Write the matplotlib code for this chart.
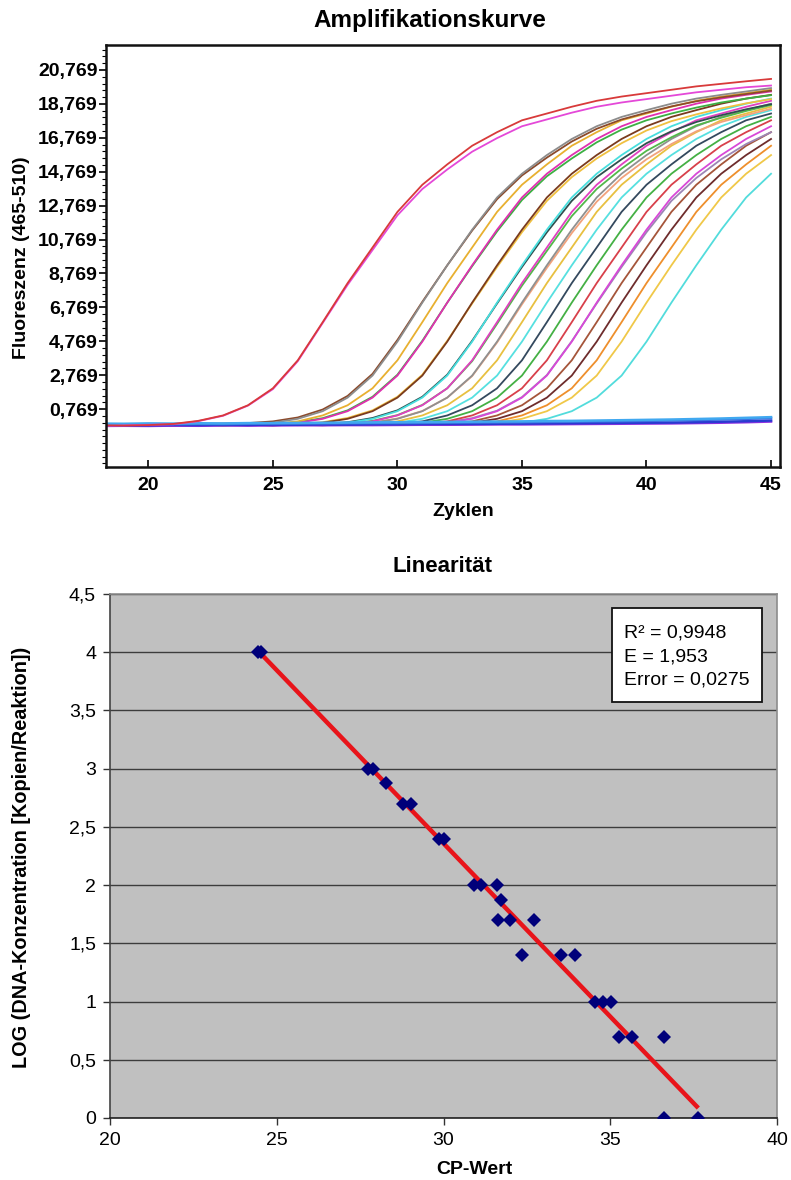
import numpy as np
import matplotlib
matplotlib.use("Agg")
import matplotlib.pyplot as plt
from matplotlib.ticker import FixedLocator, MultipleLocator
from matplotlib.patches import Rectangle

plt.rcParams['font.family'] = ['Liberation Sans', 'DejaVu Sans']

# ---------------- amplification curves (fluorescence per cycle) ----------------
cycles = list(range(18, 46))

std_red = [-0.18, -0.20, -0.17, -0.10, 0.08, 0.40, 1.00, 2.00, 3.65, 5.90, 8.20, 10.30, 12.40, 14.00,
           15.20, 16.30, 17.10, 17.80, 18.20, 18.60, 18.95, 19.20, 19.40, 19.60, 19.80, 19.95, 20.10, 20.24]
std_magenta = [-0.22, -0.19, -0.15, -0.12, 0.06, 0.38, 0.98, 1.95, 3.60, 5.85, 8.10, 10.15, 12.20, 13.75,
               14.90, 15.95, 16.75, 17.45, 17.85, 18.25, 18.60, 18.85, 19.05, 19.25, 19.45, 19.60, 19.75, 19.85]
s_gray1 = [-0.15, -0.18, -0.20, -0.16, -0.14, -0.12, -0.12, -0.03, 0.20, 0.65, 1.45, 2.75, 4.75, 7.05,
           9.25, 11.35, 13.25, 14.65, 15.75, 16.70, 17.45, 18.00, 18.40, 18.78, 19.08, 19.30, 19.50, 19.70]
s_brown1 = [-0.12, -0.16, -0.14, -0.18, -0.10, -0.08, -0.05, 0.05, 0.28, 0.75, 1.55, 2.85, 4.85, 7.10,
            9.25, 11.30, 13.15, 14.55, 15.60, 16.55, 17.30, 17.85, 18.25, 18.62, 18.92, 19.15, 19.35, 19.55]
s_gold1 = [-0.20, -0.22, -0.18, -0.15, -0.17, -0.14, -0.13, -0.10, 0.05, 0.40, 1.00, 2.00, 3.65, 5.90,
           8.20, 10.30, 12.40, 14.00, 15.20, 16.30, 17.10, 17.80, 18.20, 18.60, 18.95, 19.20, 19.40, 19.60]
s_magenta1 = [-0.14, -0.12, -0.16, -0.20, -0.18, -0.15, -0.12, -0.12, -0.03, 0.20, 0.65, 1.45, 2.75, 4.75,
              7.05, 9.25, 11.35, 13.25, 14.65, 15.75, 16.70, 17.45, 18.00, 18.40, 18.78, 19.08, 19.30, 19.50]
s_green1 = [-0.18, -0.15, -0.13, -0.16, -0.14, -0.19, -0.16, -0.10, 0.00, 0.24, 0.70, 1.50, 2.80, 4.80,
            7.05, 9.20, 11.25, 13.10, 14.50, 15.55, 16.50, 17.25, 17.80, 18.20, 18.55, 18.85, 19.08, 19.28]
s_brown2 = [-0.16, -0.19, -0.17, -0.13, -0.15, -0.18, -0.14, -0.12, -0.12, -0.03, 0.20, 0.65, 1.45, 2.75,
            4.75, 7.05, 9.25, 11.35, 13.25, 14.65, 15.75, 16.70, 17.45, 18.00, 18.40, 18.78, 19.08, 19.30]
s_gold2 = [-0.21, -0.17, -0.15, -0.19, -0.20, -0.14, -0.12, -0.15, -0.10, 0.00, 0.25, 0.70, 1.50, 2.80,
           4.80, 7.00, 9.15, 11.20, 13.05, 14.45, 15.55, 16.45, 17.20, 17.75, 18.15, 18.50, 18.80, 19.05]
s_cyan1 = [-0.14, -0.16, -0.20, -0.18, -0.13, -0.15, -0.17, -0.12, -0.14, -0.12, -0.03, 0.20, 0.65, 1.45,
           2.75, 4.75, 7.05, 9.25, 11.35, 13.25, 14.65, 15.75, 16.70, 17.45, 18.00, 18.40, 18.78, 19.08]
s_slate1 = [-0.17, -0.13, -0.16, -0.15, -0.19, -0.17, -0.12, -0.15, -0.13, -0.10, 0.00, 0.25, 0.70, 1.50,
            2.80, 4.80, 7.00, 9.15, 11.20, 13.05, 14.45, 15.50, 16.45, 17.15, 17.70, 18.10, 18.45, 18.75]
s_magenta2 = [-0.19, -0.16, -0.18, -0.14, -0.12, -0.17, -0.15, -0.13, -0.16, -0.14, -0.10, 0.05, 0.40, 1.00,
              2.00, 3.65, 5.90, 8.20, 10.30, 12.40, 14.00, 15.20, 16.30, 17.10, 17.80, 18.20, 18.60, 18.95]
s_green2 = [-0.15, -0.18, -0.13, -0.17, -0.16, -0.12, -0.14, -0.18, -0.12, -0.15, -0.08, 0.08, 0.42, 1.02,
            2.00, 3.60, 5.80, 8.05, 10.10, 12.15, 13.75, 14.95, 16.00, 16.80, 17.50, 17.95, 18.35, 18.70]
s_gray2 = [-0.13, -0.17, -0.15, -0.19, -0.16, -0.14, -0.13, -0.17, -0.15, -0.12, -0.12, -0.03, 0.20, 0.65,
           1.45, 2.75, 4.75, 7.05, 9.25, 11.35, 13.25, 14.65, 15.75, 16.70, 17.45, 18.00, 18.40, 18.78]
s_peach = [-0.18, -0.14, -0.16, -0.13, -0.18, -0.17, -0.15, -0.12, -0.16, -0.14, -0.11, -0.02, 0.22, 0.66,
           1.45, 2.72, 4.70, 6.95, 9.10, 11.15, 13.00, 14.40, 15.50, 16.40, 17.15, 17.70, 18.10, 18.48]
s_gold3 = [-0.16, -0.14, -0.18, -0.15, -0.13, -0.17, -0.19, -0.14, -0.12, -0.16, -0.15, -0.10, 0.05, 0.40,
           1.00, 2.00, 3.65, 5.90, 8.20, 10.30, 12.40, 14.00, 15.20, 16.30, 17.10, 17.80, 18.20, 18.60]
s_cyan2 = [-0.15, -0.13, -0.17, -0.16, -0.14, -0.18, -0.15, -0.13, -0.17, -0.14, -0.12, -0.12, -0.03, 0.20,
           0.65, 1.45, 2.75, 4.75, 7.05, 9.25, 11.35, 13.25, 14.65, 15.75, 16.70, 17.45, 18.00, 18.40]
s_slate2 = [-0.17, -0.15, -0.13, -0.18, -0.16, -0.14, -0.15, -0.19, -0.13, -0.15, -0.14, -0.13, -0.10, 0.05,
            0.40, 1.00, 2.00, 3.65, 5.90, 8.20, 10.30, 12.40, 14.00, 15.20, 16.30, 17.10, 17.80, 18.20]
s_green3 = [-0.14, -0.17, -0.16, -0.13, -0.15, -0.18, -0.16, -0.14, -0.17, -0.13, -0.15, -0.12, -0.12, -0.03,
            0.20, 0.65, 1.45, 2.75, 4.75, 7.05, 9.25, 11.35, 13.25, 14.65, 15.75, 16.70, 17.45, 18.00]
s_red = [-0.16, -0.18, -0.14, -0.15, -0.17, -0.13, -0.16, -0.18, -0.15, -0.14, -0.16, -0.13, -0.14, -0.10,
         0.05, 0.40, 1.00, 2.00, 3.65, 5.90, 8.20, 10.30, 12.40, 14.00, 15.20, 16.30, 17.10, 17.80]
s_magenta3 = [-0.15, -0.13, -0.17, -0.19, -0.14, -0.16, -0.15, -0.13, -0.17, -0.16, -0.14, -0.15, -0.12, -0.12,
              -0.03, 0.20, 0.65, 1.45, 2.75, 4.75, 7.05, 9.25, 11.35, 13.25, 14.65, 15.75, 16.70, 17.45]
s_purple = [-0.18, -0.16, -0.14, -0.15, -0.17, -0.13, -0.18, -0.16, -0.14, -0.15, -0.17, -0.13, -0.14, -0.10,
            0.00, 0.24, 0.68, 1.48, 2.78, 4.78, 7.00, 9.15, 11.20, 13.05, 14.40, 15.50, 16.40, 17.10]
s_rust = [-0.14, -0.16, -0.18, -0.15, -0.13, -0.17, -0.14, -0.16, -0.15, -0.18, -0.13, -0.15, -0.16, -0.14,
          -0.10, 0.05, 0.40, 1.00, 2.00, 3.65, 5.90, 8.20, 10.30, 12.40, 14.00, 15.20, 16.30, 17.10]
s_maroon = [-0.17, -0.15, -0.13, -0.16, -0.18, -0.14, -0.15, -0.17, -0.13, -0.16, -0.14, -0.15, -0.17, -0.12,
            -0.12, -0.03, 0.20, 0.65, 1.45, 2.75, 4.75, 7.05, 9.25, 11.35, 13.25, 14.65, 15.75, 16.70]
s_orange = [-0.15, -0.17, -0.14, -0.16, -0.13, -0.18, -0.15, -0.14, -0.16, -0.17, -0.13, -0.15, -0.14, -0.16,
            -0.13, -0.10, 0.05, 0.40, 1.00, 2.00, 3.65, 5.90, 8.20, 10.30, 12.40, 14.00, 15.20, 16.30]
s_gold4 = [-0.16, -0.14, -0.17, -0.15, -0.18, -0.13, -0.16, -0.15, -0.14, -0.17, -0.16, -0.13, -0.15, -0.14,
           -0.12, -0.12, -0.03, 0.20, 0.65, 1.45, 2.75, 4.75, 7.05, 9.25, 11.35, 13.25, 14.65, 15.75]
s_cyan3 = [-0.14, -0.16, -0.15, -0.18, -0.13, -0.17, -0.15, -0.14, -0.16, -0.15, -0.13, -0.17, -0.14, -0.16,
           -0.15, -0.12, -0.12, -0.03, 0.20, 0.65, 1.45, 2.75, 4.75, 7.05, 9.25, 11.35, 13.25, 14.65]

# negative controls (no amplification)
neg_blue = [-0.12, -0.13, -0.11, -0.12, -0.10, -0.11, -0.09, -0.08, -0.08, -0.07, -0.06, -0.05, -0.05, -0.04,
            -0.03, -0.02, -0.01, 0.00, 0.02, 0.03, 0.05, 0.06, 0.08, 0.10, 0.13, 0.16, 0.20, 0.24]
neg_navy = [-0.18, -0.17, -0.18, -0.16, -0.17, -0.15, -0.16, -0.14, -0.15, -0.13, -0.14, -0.12, -0.12, -0.11,
            -0.10, -0.10, -0.09, -0.08, -0.07, -0.06, -0.05, -0.04, -0.03, -0.02, 0.00, 0.03, 0.06, 0.10]
neg_violet = [-0.22, -0.21, -0.22, -0.20, -0.21, -0.19, -0.20, -0.19, -0.18, -0.18, -0.17, -0.17, -0.16, -0.15,
              -0.15, -0.14, -0.13, -0.13, -0.12, -0.11, -0.10, -0.09, -0.08, -0.07, -0.05, -0.03, 0.00, 0.04]
neg_sky = [-0.08, -0.09, -0.07, -0.08, -0.06, -0.07, -0.05, -0.05, -0.04, -0.03, -0.02, -0.01, 0.00, 0.01,
           0.02, 0.03, 0.04, 0.05, 0.07, 0.08, 0.10, 0.12, 0.14, 0.16, 0.19, 0.22, 0.26, 0.30]

sample_curves = [
    (s_cyan3, '#52dcdc'), (s_gold4, '#f0c848'), (s_orange, '#ee8f2c'), (s_maroon, '#6e2c2c'),
    (s_rust, '#a5553a'), (s_purple, '#9c86b4'), (s_magenta3, '#d848d8'), (s_red, '#d8404a'),
    (s_green3, '#44b044'), (s_slate2, '#34495e'), (s_cyan2, '#56e0e0'), (s_gold3, '#e8c040'),
    (s_peach, '#f2a27c'), (s_gray2, '#909090'), (s_green2, '#52b84a'), (s_magenta2, '#e040c0'),
    (s_slate1, '#2f4f4f'), (s_cyan1, '#48dede'), (s_gold2, '#f0c040'), (s_brown2, '#7a3b1e'),
    (s_green1, '#3cb043'), (s_magenta1, '#e030b0'), (s_gold1, '#e8b030'), (s_brown1, '#8b4a2b'),
    (s_gray1, '#8c8c8c'),
]
control_curves = [(neg_violet, '#9030e0'), (neg_navy, '#2a3ad0'), (neg_blue, '#3a6fe0'), (neg_sky, '#40a8f0')]
standard_curves = [(std_magenta, '#e448d8'), (std_red, '#d83a3a')]

fluor_ticks = [0.769 + 2 * k for k in range(11)]
cycle_ticks = [20, 25, 30, 35, 40, 45]

# ---------------- standard curve (log concentration vs. CP) ----------------
cp_values = [24.45, 24.52, 27.74, 27.88, 28.27, 28.79, 29.03, 29.87, 30.01,
             30.91, 31.13, 31.61, 31.72, 31.64, 32.00, 32.70, 32.36, 33.53, 33.94,
             34.53, 34.78, 35.02, 35.27, 35.66, 36.60, 36.60, 37.64]
log_conc = [4.0, 4.0, 3.0, 3.0, 2.875, 2.699, 2.699, 2.398, 2.398,
            2.0, 2.0, 2.0, 1.875, 1.699, 1.699, 1.699, 1.398, 1.398, 1.398,
            1.0, 1.0, 1.0, 0.699, 0.699, 0.699, 0.0, 0.0]
stats_lines = ["R\u00b2 = 0,9948", "E = 1,953", "Error = 0,0275"]
lin_yticks = [0, 0.5, 1, 1.5, 2, 2.5, 3, 3.5, 4, 4.5]
lin_xticks = [20, 25, 30, 35, 40]

W, H = 791, 1180
fig = plt.figure(figsize=(W / 100, H / 100), dpi=100)


def fx(px):
    return px / W


def fy(py):
    return 1 - py / H


# ---------------- top panel ----------------
ax1 = fig.add_axes([fx(106), fy(467), fx(780 - 106), (467 - 45) / H])
for vals, col in sample_curves:
    ax1.plot(cycles, vals, color=col, lw=1.3, solid_joinstyle='round')
for vals, col in control_curves:
    ax1.plot(cycles, vals, color=col, lw=1.8)
for vals, col in standard_curves:
    ax1.plot(cycles, vals, color=col, lw=1.3)

ax1.set_xlim(18.3, 45.36)
ax1.set_ylim(-2.64, 22.24)
ax1.xaxis.set_major_locator(FixedLocator(cycle_ticks))
ax1.yaxis.set_major_locator(FixedLocator(fluor_ticks))
ax1.yaxis.set_minor_locator(MultipleLocator(0.4, offset=0.769))
ax1.set_yticklabels([f"{v:.3f}".replace('.', ',') for v in fluor_ticks])
ax1.set_xticklabels([str(v) for v in cycle_ticks])
for s in ax1.spines.values():
    s.set_linewidth(1.8)
    s.set_color('#111111')
ax1.tick_params(axis='y', which='major', direction='out', length=5, width=1.2, pad=1,
                labelsize=14)
ax1.tick_params(axis='y', which='minor', direction='out', length=3, width=0.8)
ax1.tick_params(axis='x', which='major', direction='in', length=5, width=1.2, pad=7,
                labelsize=14)
for lab in ax1.get_xticklabels() + ax1.get_yticklabels():
    lab.set_fontweight('bold')

fig.text(fx(430), fy(20), "Amplifikationskurve", ha='center', va='center',
         fontsize=17.5, fontweight='bold')
fig.text(fx(463), fy(511), "Zyklen", ha='center', va='center', fontsize=14, fontweight='bold')
fig.text(fx(22), fy(258), "Fluoreszenz (465-510)", ha='center', va='center', rotation=90,
         fontsize=14, fontweight='bold')

# ---------------- bottom panel ----------------
ax2 = fig.add_axes([fx(110), fy(1118), fx(777 - 110), (1118 - 594) / H])
ax2.set_facecolor('#c0c0c0')
ax2.set_xlim(20, 40)
ax2.set_ylim(0, 4.5)
ax2.set_axisbelow(True)
ax2.yaxis.grid(True, color='#3c3c3c', lw=1.0)
ax2.xaxis.set_major_locator(FixedLocator(lin_xticks))
ax2.yaxis.set_major_locator(FixedLocator(lin_yticks))
ax2.set_yticklabels([f"{v:g}".replace('.', ',') for v in lin_yticks])
ax2.set_xticklabels([str(v) for v in lin_xticks])
ax2.tick_params(axis='both', direction='out', length=5, width=1.0, color='#333333',
                labelsize=14, pad=5)
for side in ('top', 'right'):
    ax2.spines[side].set_color('#8c8c8c')
    ax2.spines[side].set_linewidth(1.2)
ax2.spines['left'].set_color('#444444')
ax2.spines['bottom'].set_color('#222222')
ax2.spines['left'].set_linewidth(1.2)
ax2.spines['bottom'].set_linewidth(1.2)

slope, intercept = np.polyfit(cp_values, log_conc, 1)
xfit = np.array([min(cp_values), max(cp_values)])
ax2.plot(xfit, slope * xfit + intercept, color='#e8141a', lw=3.2, solid_capstyle='butt', zorder=3)
ax2.plot(cp_values, log_conc, linestyle='none', marker='D', markersize=7.5,
         color='#00007a', markeredgewidth=0, zorder=4)

fig.text(fx(443), fy(567), "Linearit\u00e4t", ha='center', va='center', fontsize=16,
         fontweight='bold')
fig.text(fx(474), fy(1170), "CP-Wert", ha='center', va='center', fontsize=14, fontweight='bold')
fig.text(fx(22), fy(857), "LOG (DNA-Konzentration [Kopien/Reaktion])", ha='center',
         va='center', rotation=90, fontsize=14.3, fontweight='bold')

box = Rectangle((fx(612), fy(702)), fx(762 - 612), (702 - 608) / H, transform=fig.transFigure,
                facecolor='white', edgecolor='#111111', lw=1.3, zorder=5)
fig.patches.append(box)
for i, line in enumerate(stats_lines):
    fig.text(fx(624), fy(633 + 23.5 * i), line, ha='left', va='center', fontsize=14, zorder=6)

fig.savefig("out.png", dpi=100)
